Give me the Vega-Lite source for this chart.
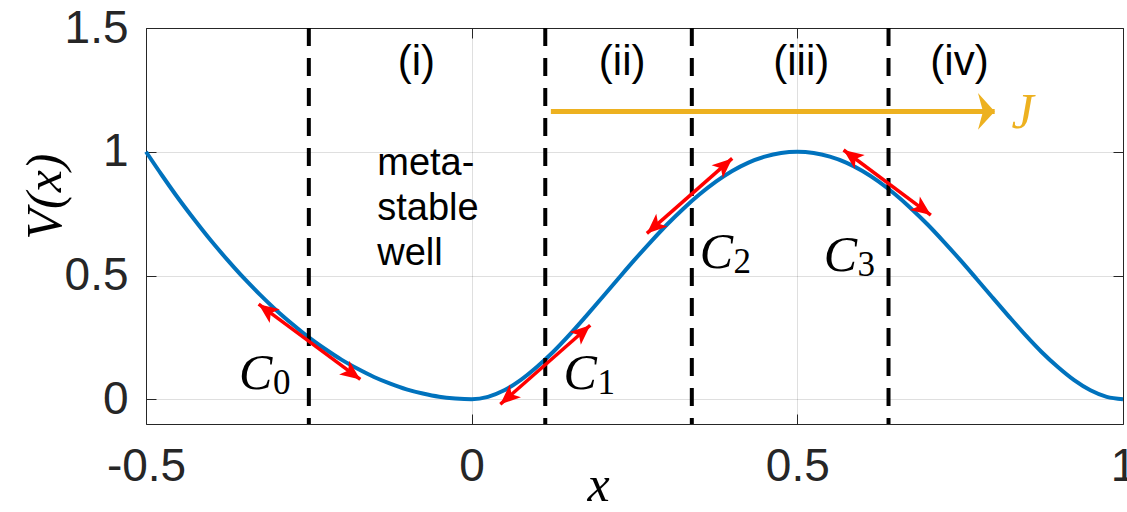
{
  "$schema": "https://vega.github.io/schema/vega-lite/v6.json",
  "width": 977,
  "height": 396,
  "autosize": {"type": "none"},
  "padding": {"left": 146, "top": 28, "right": 4, "bottom": 88},
  "background": "white",
  "config": {
    "view": {"stroke": "#262626", "strokeWidth": 1},
    "font": "Liberation Sans",
    "axis": {
      "labelFont": "Liberation Sans",
      "labelFontSize": 46,
      "labelColor": "#262626",
      "labelFlush": false,
      "labelOverlap": false,
      "tickSize": -10,
      "tickColor": "#262626",
      "tickWidth": 1,
      "domain": false,
      "gridColor": "#262626",
      "gridOpacity": 0.15,
      "gridWidth": 1,
      "titleFont": "Liberation Serif",
      "titleFontStyle": "italic",
      "titleFontWeight": "normal",
      "titleFontSize": 50,
      "titleColor": "black"
    }
  },
  "datasets": {
    "curve": [
      {"x": -0.5, "V": 1.0}, {"x": -0.475, "V": 0.903}, {"x": -0.45, "V": 0.81}, {"x": -0.425, "V": 0.723},
      {"x": -0.4, "V": 0.64}, {"x": -0.375, "V": 0.563}, {"x": -0.35, "V": 0.49}, {"x": -0.325, "V": 0.423},
      {"x": -0.3, "V": 0.36}, {"x": -0.275, "V": 0.303}, {"x": -0.25, "V": 0.25}, {"x": -0.225, "V": 0.203},
      {"x": -0.2, "V": 0.16}, {"x": -0.175, "V": 0.123}, {"x": -0.15, "V": 0.09}, {"x": -0.125, "V": 0.063},
      {"x": -0.1, "V": 0.04}, {"x": -0.075, "V": 0.023}, {"x": -0.05, "V": 0.01}, {"x": -0.025, "V": 0.003},
      {"x": 0.0, "V": 0.0}, {"x": 0.025, "V": 0.0095}, {"x": 0.05, "V": 0.036}, {"x": 0.075, "V": 0.077},
      {"x": 0.1, "V": 0.13}, {"x": 0.125, "V": 0.191}, {"x": 0.15, "V": 0.26}, {"x": 0.175, "V": 0.334},
      {"x": 0.2, "V": 0.41}, {"x": 0.225, "V": 0.487}, {"x": 0.25, "V": 0.563}, {"x": 0.275, "V": 0.636},
      {"x": 0.3, "V": 0.706}, {"x": 0.325, "V": 0.77}, {"x": 0.35, "V": 0.828}, {"x": 0.375, "V": 0.879},
      {"x": 0.4, "V": 0.922}, {"x": 0.425, "V": 0.956}, {"x": 0.45, "V": 0.98}, {"x": 0.475, "V": 0.995},
      {"x": 0.5, "V": 1.0}, {"x": 0.525, "V": 0.995}, {"x": 0.55, "V": 0.98}, {"x": 0.575, "V": 0.956},
      {"x": 0.6, "V": 0.922}, {"x": 0.625, "V": 0.879}, {"x": 0.65, "V": 0.828}, {"x": 0.675, "V": 0.77},
      {"x": 0.7, "V": 0.706}, {"x": 0.725, "V": 0.636}, {"x": 0.75, "V": 0.563}, {"x": 0.775, "V": 0.487},
      {"x": 0.8, "V": 0.41}, {"x": 0.825, "V": 0.334}, {"x": 0.85, "V": 0.26}, {"x": 0.875, "V": 0.191},
      {"x": 0.9, "V": 0.13}, {"x": 0.925, "V": 0.077}, {"x": 0.95, "V": 0.036}, {"x": 0.975, "V": 0.0095},
      {"x": 1.0, "V": 0.0}
    ],
    "boundaries": [{"x": -0.25}, {"x": 0.113}, {"x": 0.338}, {"x": 0.64}],
    "arrows": [
      {"id": "C0", "dir": "down", "x1": -0.327, "y1": 0.384, "x2": -0.171, "y2": 0.08},
      {"id": "C1", "dir": "up", "x1": 0.044, "y1": -0.02, "x2": 0.182, "y2": 0.299},
      {"id": "C2", "dir": "up", "x1": 0.269, "y1": 0.67, "x2": 0.4, "y2": 0.973},
      {"id": "C3", "dir": "down", "x1": 0.571, "y1": 1.007, "x2": 0.705, "y2": 0.744}
    ],
    "flux": [{"x1": 0.1216, "x2": 0.803, "y": 1.163, "label": "J"}],
    "regionLabels": [
      {"x": -0.085, "y": 1.363, "label": "(i)"},
      {"x": 0.231, "y": 1.363, "label": "(ii)"},
      {"x": 0.506, "y": 1.363, "label": "(iii)"},
      {"x": 0.749, "y": 1.363, "label": "(iv)"}
    ],
    "cLabels": [
      {"x": -0.3316, "y": 0.101, "sub": "0"},
      {"x": 0.1667, "y": 0.101, "sub": "1"},
      {"x": 0.3756, "y": 0.592, "sub": "2"},
      {"x": 0.566, "y": 0.578, "sub": "3"}
    ],
    "note": [{"x": -0.145, "y": 0.906, "text": "meta-\nstable\nwell"}]
  },
  "layer": [
    {
      "data": {"name": "curve"},
      "mark": {"type": "line", "color": "#0072BD", "strokeWidth": 4, "interpolate": "monotone"},
      "encoding": {
        "x": {"field": "x", "type": "quantitative", "scale": {"domain": [-0.5, 1], "nice": false, "zero": false},
              "axis": {"orient": "bottom", "values": [-0.5, 0, 0.5, 1], "labelExpr": "toString(datum.value)", "labelPadding": 30, "grid": true,
                       "title": "x", "titleBaseline": "alphabetic", "titleY": 76, "titleX": 452}},
        "y": {"field": "V", "type": "quantitative", "scale": {"domain": [-0.1, 1.5], "nice": false, "zero": false},
              "axis": {"orient": "left", "values": [0, 0.5, 1, 1.5], "labelExpr": "toString(datum.value)", "labelPadding": 28, "grid": true,
                       "title": "V(x)", "titleBaseline": "alphabetic", "titleX": -86, "titleY": 168}}
      }
    },
    {
      "data": {"name": "curve"},
      "mark": {"type": "point", "opacity": 0},
      "encoding": {
        "x": {"field": "x", "type": "quantitative", "scale": {"domain": [-0.5, 1], "nice": false, "zero": false},
              "axis": {"orient": "top", "values": [-0.5, 0, 0.5, 1], "labels": false, "title": null, "grid": false}},
        "y": {"field": "V", "type": "quantitative", "scale": {"domain": [-0.1, 1.5], "nice": false, "zero": false},
              "axis": {"orient": "right", "values": [0, 0.5, 1, 1.5], "labels": false, "title": null, "grid": false}}
      }
    },
    {
      "data": {"name": "boundaries"},
      "mark": {"type": "rule", "color": "black", "strokeWidth": 4, "strokeDash": [18, 12]},
      "encoding": {
        "x": {"field": "x", "type": "quantitative", "scale": {"domain": [-0.5, 1], "nice": false, "zero": false}, "axis": null}
      }
    },
    {
      "data": {"name": "arrows"},
      "mark": {"type": "rule", "color": "#FF0000", "strokeWidth": 3.5},
      "encoding": {
        "x": {"field": "x1", "type": "quantitative", "scale": {"domain": [-0.5, 1], "nice": false, "zero": false}, "axis": null},
        "y": {"field": "y1", "type": "quantitative", "scale": {"domain": [-0.1, 1.5], "nice": false, "zero": false}, "axis": null},
        "x2": {"field": "x2"},
        "y2": {"field": "y2"}
      }
    },
    {
      "data": {"name": "arrows"},
      "transform": [{"filter": "datum.dir === 'down'"}],
      "mark": {"type": "point", "shape": "M0,0 L0.85,2 L0,1.5 L-0.85,2 Z", "filled": true, "color": "#FF0000", "opacity": 1, "size": 400, "angle": -53.5},
      "encoding": {
        "x": {"field": "x1", "type": "quantitative", "scale": {"domain": [-0.5, 1], "nice": false, "zero": false}, "axis": null},
        "y": {"field": "y1", "type": "quantitative", "scale": {"domain": [-0.1, 1.5], "nice": false, "zero": false}, "axis": null}
      }
    },
    {
      "data": {"name": "arrows"},
      "transform": [{"filter": "datum.dir === 'down'"}],
      "mark": {"type": "point", "shape": "M0,0 L0.85,2 L0,1.5 L-0.85,2 Z", "filled": true, "color": "#FF0000", "opacity": 1, "size": 400, "angle": 126.5},
      "encoding": {
        "x": {"field": "x2", "type": "quantitative", "scale": {"domain": [-0.5, 1], "nice": false, "zero": false}, "axis": null},
        "y": {"field": "y2", "type": "quantitative", "scale": {"domain": [-0.1, 1.5], "nice": false, "zero": false}, "axis": null}
      }
    },
    {
      "data": {"name": "arrows"},
      "transform": [{"filter": "datum.dir === 'up'"}],
      "mark": {"type": "point", "shape": "M0,0 L0.85,2 L0,1.5 L-0.85,2 Z", "filled": true, "color": "#FF0000", "opacity": 1, "size": 400, "angle": 228.6},
      "encoding": {
        "x": {"field": "x1", "type": "quantitative", "scale": {"domain": [-0.5, 1], "nice": false, "zero": false}, "axis": null},
        "y": {"field": "y1", "type": "quantitative", "scale": {"domain": [-0.1, 1.5], "nice": false, "zero": false}, "axis": null}
      }
    },
    {
      "data": {"name": "arrows"},
      "transform": [{"filter": "datum.dir === 'up'"}],
      "mark": {"type": "point", "shape": "M0,0 L0.85,2 L0,1.5 L-0.85,2 Z", "filled": true, "color": "#FF0000", "opacity": 1, "size": 400, "angle": 48.6},
      "encoding": {
        "x": {"field": "x2", "type": "quantitative", "scale": {"domain": [-0.5, 1], "nice": false, "zero": false}, "axis": null},
        "y": {"field": "y2", "type": "quantitative", "scale": {"domain": [-0.1, 1.5], "nice": false, "zero": false}, "axis": null}
      }
    },
    {
      "data": {"name": "flux"},
      "mark": {"type": "rule", "color": "#EDB120", "strokeWidth": 5},
      "encoding": {
        "x": {"field": "x1", "type": "quantitative", "scale": {"domain": [-0.5, 1], "nice": false, "zero": false}, "axis": null},
        "x2": {"field": "x2"},
        "y": {"field": "y", "type": "quantitative", "scale": {"domain": [-0.1, 1.5], "nice": false, "zero": false}, "axis": null}
      }
    },
    {
      "data": {"name": "flux"},
      "mark": {"type": "point", "shape": "M0,0 L2.2,2 L0,1.4 L-2.2,2 Z", "filled": true, "color": "#EDB120", "opacity": 1, "size": 279, "angle": 90},
      "encoding": {
        "x": {"field": "x2", "type": "quantitative", "scale": {"domain": [-0.5, 1], "nice": false, "zero": false}, "axis": null},
        "y": {"field": "y", "type": "quantitative", "scale": {"domain": [-0.1, 1.5], "nice": false, "zero": false}, "axis": null}
      }
    },
    {
      "data": {"name": "flux"},
      "mark": {"type": "text", "font": "Liberation Serif", "fontStyle": "italic", "fontSize": 50, "color": "#EDB120", "align": "center", "baseline": "middle", "dx": 28, "dy": 2},
      "encoding": {
        "x": {"field": "x2", "type": "quantitative", "scale": {"domain": [-0.5, 1], "nice": false, "zero": false}, "axis": null},
        "y": {"field": "y", "type": "quantitative", "scale": {"domain": [-0.1, 1.5], "nice": false, "zero": false}, "axis": null},
        "text": {"field": "label"}
      }
    },
    {
      "data": {"name": "regionLabels"},
      "mark": {"type": "text", "font": "Liberation Sans", "fontSize": 42, "color": "black", "align": "center", "baseline": "middle"},
      "encoding": {
        "x": {"field": "x", "type": "quantitative", "scale": {"domain": [-0.5, 1], "nice": false, "zero": false}, "axis": null},
        "y": {"field": "y", "type": "quantitative", "scale": {"domain": [-0.1, 1.5], "nice": false, "zero": false}, "axis": null},
        "text": {"field": "label"}
      }
    },
    {
      "data": {"name": "note"},
      "mark": {"type": "text", "font": "Liberation Sans", "fontSize": 38, "color": "black", "align": "left", "baseline": "alphabetic", "lineBreak": "\n", "lineHeight": 45},
      "encoding": {
        "x": {"field": "x", "type": "quantitative", "scale": {"domain": [-0.5, 1], "nice": false, "zero": false}, "axis": null},
        "y": {"field": "y", "type": "quantitative", "scale": {"domain": [-0.1, 1.5], "nice": false, "zero": false}, "axis": null},
        "text": {"field": "text"}
      }
    },
    {
      "data": {"name": "cLabels"},
      "mark": {"type": "text", "font": "Liberation Serif", "fontStyle": "italic", "fontSize": 50, "color": "black", "align": "center", "baseline": "middle", "text": "C"},
      "encoding": {
        "x": {"field": "x", "type": "quantitative", "scale": {"domain": [-0.5, 1], "nice": false, "zero": false}, "axis": null},
        "y": {"field": "y", "type": "quantitative", "scale": {"domain": [-0.1, 1.5], "nice": false, "zero": false}, "axis": null}
      }
    },
    {
      "data": {"name": "cLabels"},
      "mark": {"type": "text", "font": "Liberation Serif", "fontSize": 35, "color": "black", "align": "center", "baseline": "middle", "dx": 26, "dy": 9},
      "encoding": {
        "x": {"field": "x", "type": "quantitative", "scale": {"domain": [-0.5, 1], "nice": false, "zero": false}, "axis": null},
        "y": {"field": "y", "type": "quantitative", "scale": {"domain": [-0.1, 1.5], "nice": false, "zero": false}, "axis": null},
        "text": {"field": "sub"}
      }
    }
  ],
  "resolve": {"axis": {"x": "independent", "y": "independent"}}
}
